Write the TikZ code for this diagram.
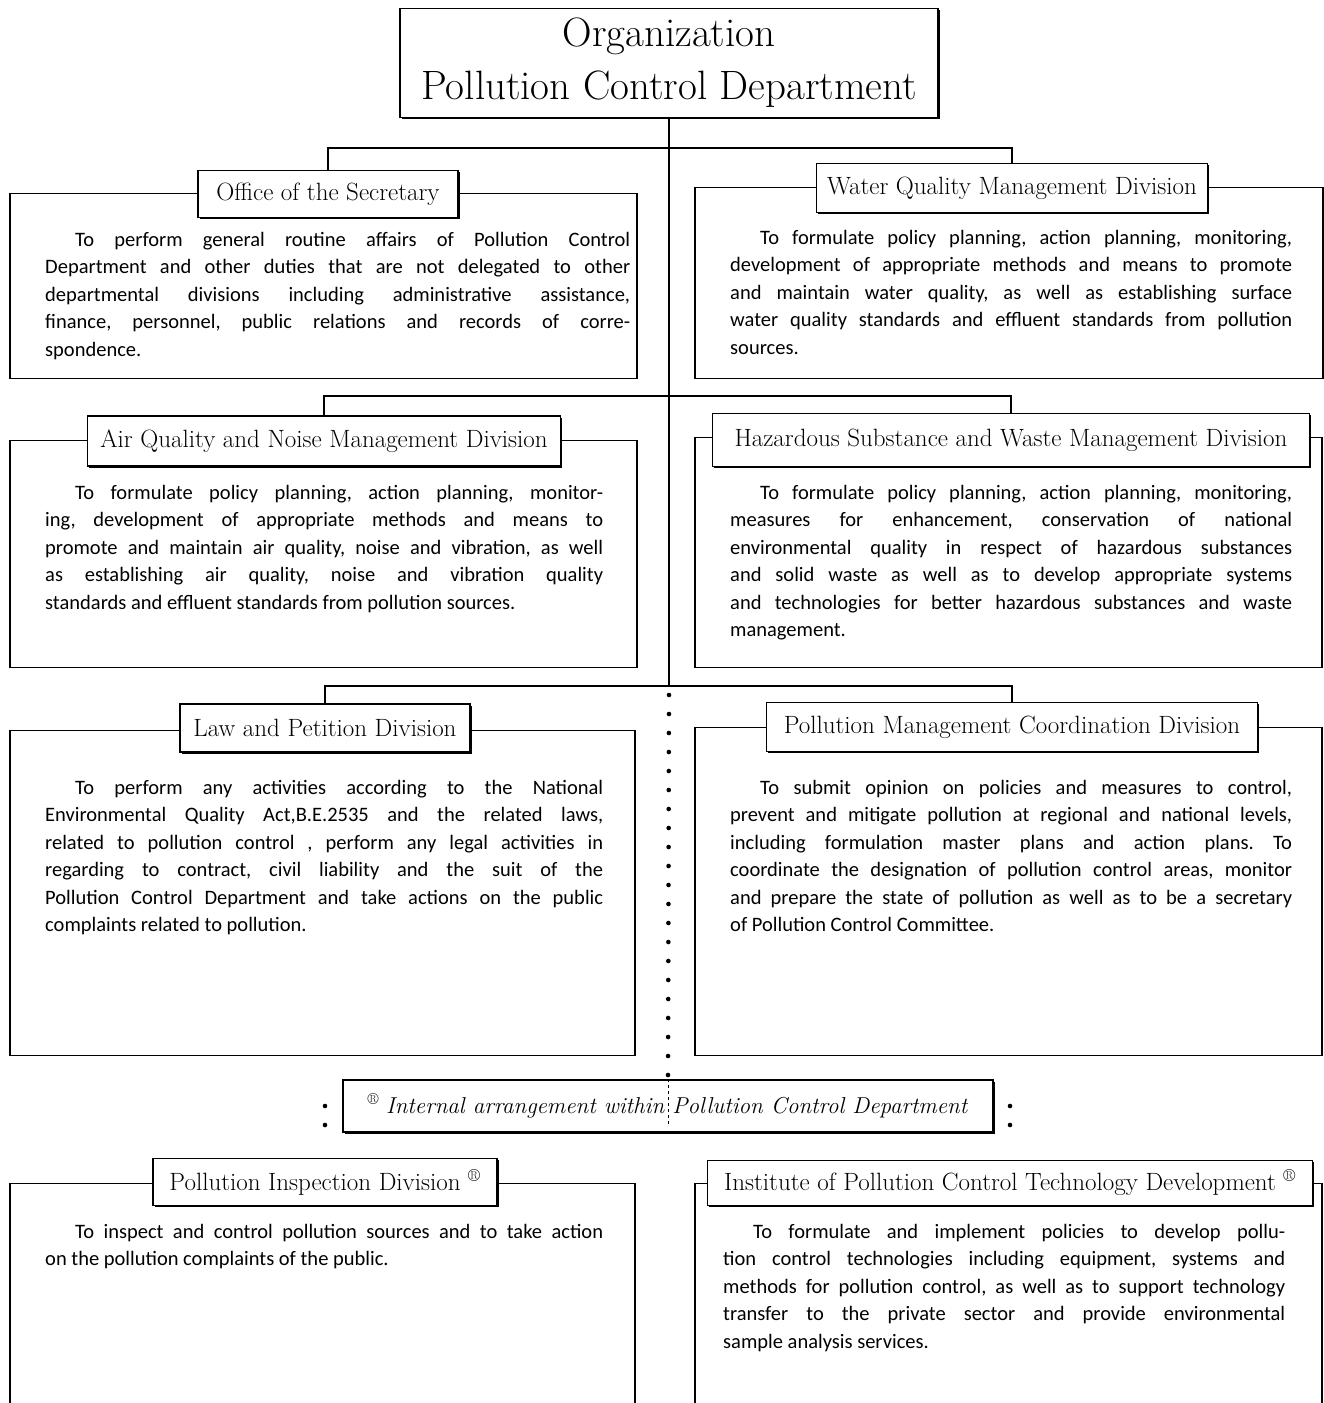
\documentclass[tikz,border=0pt]{standalone}
\usepackage{fontspec}
\setsansfont{Carlito}
\usepackage{tikz}
\usetikzlibrary{shadows}

\begin{document}
\begin{tikzpicture}[x=1pt, y=-1pt,
    divframe/.style={draw, line width=1.1pt, inner sep=0pt, anchor=north west},
    boxside/.style={line width=2.6pt},
    divhead/.style={draw, line width=1.3pt, fill=white, inner sep=0pt, font=\fontsize{25}{28}\selectfont, drop shadow={shadow xshift=1.6pt, shadow yshift=-1.6pt, opacity=1, fill=black}},
    divtext/.style={anchor=base west, inner sep=0pt, align=justify, font=\sffamily\fontsize{20.5}{27.5}\selectfont\frenchspacing},
    link/.style={line width=1.4pt},
    trunk/.style={line width=2.4pt},
    trunkdots/.style={line width=4.6pt, line cap=round, dash pattern=on 0pt off 19pt}
  ]
    \useasboundingbox[fill=white] (0,0) rectangle (1324,1403);

    % frames of the division boxes
    \node[divframe, minimum width=626pt, minimum height=185pt] (secbox) at (10,193) {};
    \node[divframe, minimum width=627pt, minimum height=191pt] (waterbox) at (695,187) {};
    \node[divframe, minimum width=626pt, minimum height=227pt] (airbox) at (10,440) {};
    \node[divframe, minimum width=626pt, minimum height=230pt] (hazbox) at (695,437) {};
    \node[divframe, minimum width=624pt, minimum height=325pt] (lawbox) at (10,730) {};
    \node[divframe, minimum width=626pt, minimum height=328pt] (coordbox) at (695,727) {};
    \node[divframe, minimum width=624pt, minimum height=235pt] (inspbox) at (10,1183) {};
    \node[divframe, minimum width=626pt, minimum height=235pt] (instbox) at (695,1183) {};
    \foreach \b in {secbox,waterbox,airbox,hazbox,lawbox,coordbox,inspbox,instbox}
      \draw[boxside] (\b.north west) -- (\b.south west) (\b.north east) -- (\b.south east);

    % heads
    \node[divhead, minimum width=538pt, minimum height=109pt, align=center, font=\fontsize{41}{53}\selectfont] (title) at (669,63) {Organization\\Pollution Control Department};
    \node[divhead, minimum width=260pt, minimum height=47pt] (sec) at (328,194) {Office of the Secretary};
    \node[divhead, minimum width=391pt, minimum height=49pt] (water) at (1012,188) {Water Quality Management Division};
    \node[divhead, minimum width=473pt, minimum height=50pt] (air) at (324,441) {Air Quality and Noise Management Division};
    \node[divhead, minimum width=597pt, minimum height=53pt] (haz) at (1011,440) {Hazardous Substance and Waste Management Division};
    \node[divhead, minimum width=290pt, minimum height=48pt] (law) at (325,728) {Law and Petition Division};
    \node[divhead, minimum width=491pt, minimum height=49pt] (coord) at (1012,727) {Pollution Management Coordination Division};
    \node[divhead, minimum width=650pt, minimum height=52pt, font=\fontsize{23}{28}\selectfont] (internal) at (668,1106) {\textsuperscript{\textregistered}\ \textit{Internal arrangement within Pollution Control Department}};
    \node[divhead, minimum width=344pt, minimum height=47pt] (insp) at (325,1182) {Pollution Inspection Division \textsuperscript{\textregistered}};
    \node[divhead, minimum width=605pt, minimum height=45pt] (inst) at (1010,1183) {Institute of Pollution Control Technology Development \textsuperscript{\textregistered}};

    % connectors
    \coordinate (br1) at (669,148);
    \coordinate (br2) at (669,396);
    \coordinate (br3) at (669,686);
    \draw[trunk] (title.south) -- (br3);
    \draw[link] (sec.north) |- (br1) -| (water.north);
    \draw[link] (air.north) |- (br2) -| (haz.north);
    \draw[link] (law.north) |- (br3) -| (coord.north);
    \draw[trunkdots] ([yshift=-9pt]br3) -- (internal.north);
    \draw[thin, dashed] (internal.north) -- ([yshift=7pt]internal.south);
    \draw[trunkdots] (insp.north |- internal.center) -- ++(0,20);
    \draw[trunkdots] (inst.north |- internal.center) -- ++(0,20);

    % texts
    \node[divtext, text width=585pt] (sectext) at (45,246) {\hspace*{30pt}To perform general routine affairs of Pollution Control\linebreak
      Department and other duties that are not delegated to other\linebreak
      departmental divisions including administrative assistance,\linebreak
      finance, personnel, public relations and records of corre-\linebreak
      spondence.};
    \node[divtext, text width=562pt] (watertext) at (730,244) {\hspace*{30pt}To formulate policy planning, action planning, monitoring,\linebreak
      development of appropriate methods and means to promote\linebreak
      and maintain water quality, as well as establishing surface\linebreak
      water quality standards and effluent standards from pollution\linebreak
      sources.};
    \node[divtext, text width=558pt] (airtext) at (45,499) {\hspace*{30pt}To formulate policy planning, action planning, monitor-\linebreak
      ing, development of appropriate methods and means to\linebreak
      promote and maintain air quality, noise and vibration, as well\linebreak
      as establishing air quality, noise and vibration quality\linebreak
      standards and effluent standards from pollution sources.};
    \node[divtext, text width=562pt] (haztext) at (730,499) {\hspace*{30pt}To formulate policy planning, action planning, monitoring,\linebreak
      measures for enhancement, conservation of national\linebreak
      environmental quality in respect of hazardous substances\linebreak
      and solid waste as well as to develop appropriate systems\linebreak
      and technologies for better hazardous substances and waste\linebreak
      management.};
    \node[divtext, text width=558pt] (lawtext) at (45,794) {\hspace*{30pt}To perform any activities according to the National\linebreak
      Environmental Quality Act,B.E.2535 and the related laws,\linebreak
      related to pollution control , perform any legal activities in\linebreak
      regarding to contract, civil liability and the suit of the\linebreak
      Pollution Control Department and take actions on the public\linebreak
      complaints related to pollution.};
    \node[divtext, text width=562pt] (coordtext) at (730,794) {\hspace*{30pt}To submit opinion on policies and measures to control,\linebreak
      prevent and mitigate pollution at regional and national levels,\linebreak
      including formulation master plans and action plans. To\linebreak
      coordinate the designation of pollution control areas, monitor\linebreak
      and prepare the state of pollution as well as to be a secretary\linebreak
      of Pollution Control Committee.};
    \node[divtext, text width=558pt] (insptext) at (45,1238) {\hspace*{30pt}To inspect and control pollution sources and to take action\linebreak
      on the pollution complaints of the public.};
    \node[divtext, text width=562pt] (insttext) at (723,1238) {\hspace*{30pt}To formulate and implement policies to develop pollu-\linebreak
      tion control technologies including equipment, systems and\linebreak
      methods for pollution control, as well as to support technology\linebreak
      transfer to the private sector and provide environmental\linebreak
      sample analysis services.};
  \end{tikzpicture}
\end{document}
